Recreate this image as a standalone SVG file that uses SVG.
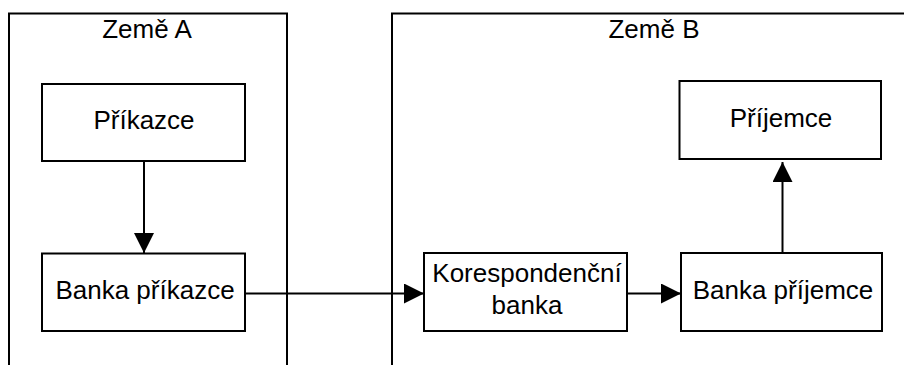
<svg xmlns="http://www.w3.org/2000/svg" width="904" height="365" viewBox="0 0 904 365">
  <style>
    .frame { fill: none; stroke: #000; stroke-width: 2; }
    .box { fill: #fff; stroke: #000; stroke-width: 2; }
    .edge { fill: none; stroke: #000; stroke-width: 2; }
    text { font-family: "Liberation Sans", Arial, sans-serif; font-size: 26px; fill: #000; text-anchor: middle; }
  </style>
  <defs>
    <marker id="arrow" markerUnits="userSpaceOnUse" markerWidth="20" markerHeight="20" refX="20" refY="10" orient="auto">
      <path d="M0,0 L20,10 L0,20 Z" fill="#000"/>
    </marker>
  </defs>
  <rect width="904" height="365" fill="#fff"/>

  <!-- country frames (open at the bottom / right) -->
  <g id="zeme-a">
    <path class="frame" d="M9,366 V13.5 H287 V366"/>
    <text x="147" y="38">Země A</text>
  </g>
  <g id="zeme-b">
    <path class="frame" d="M392,366 V13.5 H910"/>
    <text x="654" y="38">Země B</text>
  </g>

  <!-- connectors -->
  <g id="connectors">
    <line class="edge" x1="144" y1="161" x2="144" y2="253" marker-end="url(#arrow)"/>
    <line class="edge" x1="245" y1="293.5" x2="424" y2="293.5" marker-end="url(#arrow)"/>
    <line class="edge" x1="627" y1="293.5" x2="681" y2="293.5" marker-end="url(#arrow)"/>
    <line class="edge" x1="782.5" y1="253" x2="782.5" y2="162" marker-end="url(#arrow)"/>
  </g>

  <g id="prikazce">
    <rect class="box" x="42" y="84" width="203" height="77"/>
    <text x="144" y="128.5">Příkazce</text>
  </g>
  <g id="banka-prikazce">
    <rect class="box" x="42" y="253.5" width="203" height="77.5"/>
    <text x="145" y="298.5">Banka příkazce</text>
  </g>
  <g id="korespondencni-banka">
    <rect class="box" x="424" y="253" width="203" height="78"/>
    <text x="527" y="282">Korespondenční</text>
    <text x="527" y="313.5">banka</text>
  </g>
  <g id="banka-prijemce">
    <rect class="box" x="681" y="253" width="201" height="78"/>
    <text x="783" y="298.5">Banka příjemce</text>
  </g>
  <g id="prijemce">
    <rect class="box" x="679.5" y="81" width="201.5" height="78"/>
    <text x="781" y="127">Příjemce</text>
  </g>
</svg>
